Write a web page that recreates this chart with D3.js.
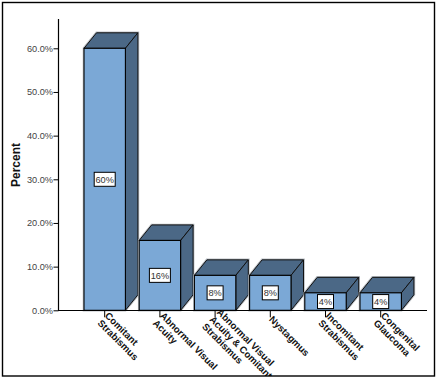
<!DOCTYPE html>
<html><head><meta charset="utf-8">
<script src="https://cdn.jsdelivr.net/npm/d3@7"></script>
<style>html,body{margin:0;padding:0;background:#fff}svg{display:block}text{font-family:"Liberation Sans",Arial,sans-serif}</style>
</head><body><svg id="c" width="437" height="379"></svg>
<script>
const categories=["Comitant Strabismus","Abnormal Visual Acuity","Abnormal Visual Acuity & Comitant Strabismus","Nystagmus","Incomitant Strabismus","Congenital Glaucoma"];
const labelLines=[["Comitant","Strabismus"],["Abnormal Visual","Acuity"],["Abnormal Visual","Acuity & Comitant","Strabismus"],["Nystagmus"],["Incomitant","Strabismus"],["Congenital","Glaucoma"]];
const values=[60,16,8,8,4,4];
const valueLabels=["60%","16%","8%","8%","4%","4%"];
const yTicks=[0,10,20,30,40,50,60];

const svg=d3.select("#c");
svg.append("rect").attr("x",0).attr("y",0).attr("width",437).attr("height",379).attr("fill","#fff");

const y=d3.scaleLinear().domain([0,60]).range([310.3,48.3]);
const x=d3.scaleBand().domain(categories).range([77.1,408.3]).paddingInner(0.25).paddingOuter(0.125);
const dx=12.5,dy=15.5,front="#7ba8d6",dark="#4b6886";

const marks=svg.append("g");
categories.forEach((c,i)=>{
  const x0=x(c),x1=x0+x.bandwidth(),yt=y(values[i]),yb=y(0);
  const g=marks.append("g");
  const outline=[[x0,yb],[x0,yt],[x0+dx,yt-dy],[x1+dx,yt-dy],[x1+dx,yb-dy],[x1,yb]];
  g.append("polygon").attr("points",outline.map(p=>p.join(",")).join(" ")).attr("fill","none").attr("stroke","#b9bec4").attr("stroke-width",2.6);
  g.append("polygon").attr("points",[[x0,yt],[x0+dx,yt-dy],[x1+dx,yt-dy],[x1,yt]].map(p=>p.join(",")).join(" ")).attr("fill",dark).attr("stroke","#111").attr("stroke-width",1);
  g.append("polygon").attr("points",[[x1,yt],[x1+dx,yt-dy],[x1+dx,yb-dy],[x1,yb]].map(p=>p.join(",")).join(" ")).attr("fill",dark).attr("stroke","#111").attr("stroke-width",1);
  g.append("rect").attr("x",x0).attr("y",yt).attr("width",x.bandwidth()).attr("height",yb-yt).attr("fill",front).attr("stroke","#000").attr("stroke-width",1.1);
  const cx=x0+x.bandwidth()/2,cy=(yt+yb)/2;
  const w=values[i]>=10?21:16,h=14;
  g.append("rect").attr("x",cx-w/2).attr("y",cy-h/2).attr("width",w).attr("height",h).attr("fill","#fff").attr("stroke","#000").attr("stroke-width",1);
  g.append("text").attr("x",cx).attr("y",cy+3.2).attr("text-anchor","middle").attr("font-size",9.2).attr("fill","#333").text(valueLabels[i]);
});

const yAxis=d3.axisLeft(y).tickValues(yTicks).tickFormat(d=>d.toFixed(1)+"%").tickSize(5).tickPadding(0.5);
const ya=svg.append("g").attr("transform","translate(58.5,0)").call(yAxis);
ya.select(".domain").remove();
ya.selectAll("line").attr("stroke","#000").attr("stroke-width",1);
ya.selectAll("text").attr("font-family",'"Liberation Sans",Arial,sans-serif').attr("font-size",9.2).attr("fill","#444");
svg.append("line").attr("x1",58.5).attr("x2",58.5).attr("y1",19).attr("y2",310.5).attr("stroke","#000").attr("stroke-width",1.2);

const xa=svg.append("g").attr("transform","translate(0,310.3)").call(d3.axisBottom(x).tickSize(7).tickFormat(""));
xa.select(".domain").remove();
xa.selectAll("line").attr("stroke","#000").attr("stroke-width",1);
svg.append("line").attr("x1",58).attr("x2",427).attr("y1",310.5).attr("y2",310.5).attr("stroke","#000").attr("stroke-width",1.2);

const lh=10.3;
categories.forEach((c,i)=>{
  const cx=x(c)+x.bandwidth()/2,n=labelLines[i].length;
  const t=svg.append("text").attr("transform",`translate(${cx-1.8-(n-1)*2.2},320) rotate(45)`).attr("font-size",9.7).attr("font-weight","bold").attr("fill","#111");
  labelLines[i].forEach((l,j)=>t.append("tspan").attr("x",0).attr("y",(j-(n-1)/2)*lh).text(l));
});

svg.append("text").attr("transform","translate(19.5,165) rotate(-90)").attr("text-anchor","middle").attr("font-size",12).attr("font-weight","bold").attr("fill","#111").text("Percent");

const outside=d3.path();
outside.rect(0,0,437,379);outside.rect(2.5,2.5,432,373.5);
svg.append("path").attr("d",outside.toString()).attr("fill","#fff").attr("fill-rule","evenodd");
svg.append("rect").attr("x",2.5).attr("y",2.5).attr("width",432).attr("height",373.5).attr("fill","none").attr("stroke","#000").attr("stroke-width",1.4);
</script></body></html>
